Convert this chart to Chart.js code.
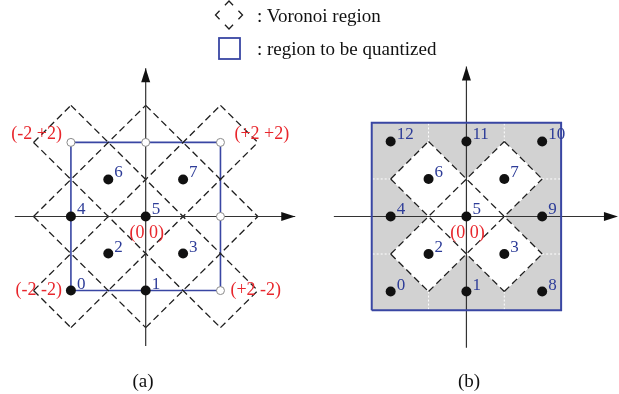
<!DOCTYPE html>
<html>
<head>
<meta charset="utf-8">
<script src="https://cdn.jsdelivr.net/npm/chart.js@4.4.1/dist/chart.umd.min.js"></script>
<style>
  html, body { margin: 0; padding: 0; background: #fff; }
  #wrap { position: relative; width: 619px; height: 394px; overflow: hidden;
          font-family: "Liberation Serif", "Times New Roman", serif; color: #111; }
  #wrap canvas { position: absolute; left: 0; top: 0; }
  .txt { position: absolute; font-size: 19px; line-height: 1; white-space: nowrap; }
  .mid { transform: translate(-50%, -50%); }
  .lft { transform: translate(0, -50%); }
</style>
</head>
<body>
<div id="wrap">
  <canvas id="chartA" width="619" height="394"></canvas>
  <canvas id="chartB" width="619" height="394"></canvas>
  <div class="txt lft" style="left:257px;top:15px">: Voronoi region</div>
  <div class="txt lft" style="left:257px;top:48px">: region to be quantized</div>
  <div class="txt mid" style="left:143px;top:380px">(a)</div>
  <div class="txt mid" style="left:469px;top:380px">(b)</div>
</div>
<script>
// D2 lattice points (x + y even) inside the region, numbered as in (b)
const pointX = [-2, 0, -1, 1, -2, 0, -1, 1, 2, 2, 2, 0, -2];
const pointY = [-2, -2, -1, -1, 0, 0, 1, 1, -2, 0, 2, 2, 2];
const pointLabels = ['0', '1', '2', '3', '4', '5', '6', '7', '8', '9', '10', '11', '12'];
const codewordsA = 8;            // (a): points 0..7 are codewords, the rest are hollow
const innerCells = [2, 3, 5, 6, 7]; // (b): white Voronoi cells

const cornerLabels = ['(-2 -2)', '(+2 -2)', '(+2 +2)', '(-2 +2)'];
const cornerX = [-2, 2, 2, -2];
const cornerY = [-2, -2, 2, 2];
const originLabel = '(0 0)';

const cellRadius = 1;   // L1 radius of a Voronoi diamond
const regionA = 2;      // half side of the region in (a)
const regionB = 2.5;    // half side of the region in (b)
const axisFrom = -3.5;
const axisTo = 4;

const BLUE = '#3946a3';
const BLUE_TXT = '#2d3c98';
const RED = '#e8262c';
const INK = '#1e1e1e';

function diamond(i) {
  const x = pointX[i], y = pointY[i], r = cellRadius;
  return [{x: x - r, y}, {x, y: y + r}, {x: x + r, y}, {x, y: y - r}];
}

// unit edges of the diamonds, deduplicated and joined into long lines
function voronoiLines(indices) {
  const seen = {};
  const edges = [];
  indices.forEach(i => {
    const v = diamond(i);
    for (let k = 0; k < 4; k++) {
      let a = v[k], b = v[(k + 1) % 4];
      if (a.x > b.x) [a, b] = [b, a];
      const key = [a.x, a.y, b.x, b.y].join(',');
      if (!seen[key]) { seen[key] = true; edges.push({a, b}); }
    }
  });
  const groups = {};
  edges.forEach(e => {
    const s = (e.b.y - e.a.y) / (e.b.x - e.a.x);
    const key = s + '|' + (e.a.y - s * e.a.x);
    (groups[key] = groups[key] || []).push(e);
  });
  const out = [];
  Object.values(groups).forEach(list => {
    list.sort((p, q) => p.a.x - q.a.x);
    let cur = {a: list[0].a, b: list[0].b};
    for (let k = 1; k < list.length; k++) {
      if (list[k].a.x === cur.b.x) cur.b = list[k].b;
      else { out.push(cur); cur = {a: list[k].a, b: list[k].b}; }
    }
    out.push(cur);
  });
  return out;
}

function square(h) {
  return [{x: -h, y: -h}, {x: h, y: -h}, {x: h, y: h}, {x: -h, y: h}, {x: -h, y: -h}];
}

function lineSet(data, color, width, dash, order, extra) {
  return Object.assign({
    data, showLine: true, pointRadius: 0, pointHoverRadius: 0,
    borderColor: color, borderWidth: width, borderDash: dash || [],
    fill: false, order
  }, extra || {});
}

function dashedSets(indices, order) {
  return voronoiLines(indices).map(s => lineSet([s.a, s.b], INK, 1.3, [7, 4], order));
}

function axisSets(order) {
  return [
    lineSet([{x: axisFrom, y: 0}, {x: axisTo, y: 0}], '#333', 1.2, [], order),
    lineSet([{x: 0, y: axisFrom}, {x: 0, y: axisTo}], '#333', 1.2, [], order)
  ];
}

function pointsOf(indices) {
  return indices.map(i => ({x: pointX[i], y: pointY[i]}));
}

function range(a, b) { const r = []; for (let i = a; i < b; i++) r.push(i); return r; }

function arrowHeads(chart) {
  const {ctx, scales} = chart;
  const x0 = scales.x.getPixelForValue(0), y0 = scales.y.getPixelForValue(0);
  const tx = scales.x.getPixelForValue(axisTo), ty = scales.y.getPixelForValue(axisTo);
  ctx.save();
  ctx.fillStyle = '#111';
  ctx.beginPath();
  ctx.moveTo(tx, y0); ctx.lineTo(tx - 14, y0 - 4.5); ctx.lineTo(tx - 14, y0 + 4.5); ctx.closePath();
  ctx.fill();
  ctx.beginPath();
  ctx.moveTo(x0, ty); ctx.lineTo(x0 - 4.5, ty + 14); ctx.lineTo(x0 + 4.5, ty + 14); ctx.closePath();
  ctx.fill();
  ctx.restore();
}

function numberLabels(chart, indices) {
  const {ctx, scales} = chart;
  ctx.save();
  ctx.font = '17px "Liberation Serif", serif';
  ctx.fillStyle = BLUE_TXT;
  ctx.textAlign = 'left';
  ctx.textBaseline = 'alphabetic';
  indices.forEach(i => {
    ctx.fillText(pointLabels[i], scales.x.getPixelForValue(pointX[i]) + 6,
                 scales.y.getPixelForValue(pointY[i]) - 2);
  });
  ctx.font = '18px "Liberation Serif", serif';
  ctx.fillStyle = RED;
  ctx.textAlign = 'center';
  ctx.textBaseline = 'middle';
  ctx.fillText(originLabel, scales.x.getPixelForValue(0) + 1, scales.y.getPixelForValue(0) + 17);
  ctx.restore();
}

const annotateA = {
  id: 'annotateA',
  afterDatasetsDraw(chart) {
    const {ctx, scales} = chart;
    arrowHeads(chart);
    numberLabels(chart, range(0, codewordsA));
    ctx.save();
    ctx.font = '18px "Liberation Serif", serif';
    ctx.fillStyle = RED;
    ctx.textBaseline = 'middle';
    cornerLabels.forEach((t, k) => {
      const px = scales.x.getPixelForValue(cornerX[k]);
      const py = scales.y.getPixelForValue(cornerY[k]);
      const top = cornerY[k] > 0;
      if (cornerX[k] < 0) { ctx.textAlign = 'right'; ctx.fillText(t, px - 9, py - (top ? 8 : 0)); }
      else { ctx.textAlign = 'left'; ctx.fillText(t, px + (top ? 14 : 10), py - (top ? 8 : 0)); }
    });
    ctx.restore();

    // legend icons
    ctx.save();
    ctx.strokeStyle = INK;
    ctx.lineWidth = 1.3;
    const cx = 229, cy = 15, hw = 13.5, hh = 14, arm = 0.3;
    const tips = [[cx - hw, cy], [cx, cy - hh], [cx + hw, cy], [cx, cy + hh]];
    tips.forEach((p, k) => {
      const prev = tips[(k + 3) % 4], next = tips[(k + 1) % 4];
      ctx.beginPath();
      ctx.moveTo(p[0] + (prev[0] - p[0]) * arm, p[1] + (prev[1] - p[1]) * arm);
      ctx.lineTo(p[0], p[1]);
      ctx.lineTo(p[0] + (next[0] - p[0]) * arm, p[1] + (next[1] - p[1]) * arm);
      ctx.stroke();
    });
    ctx.strokeStyle = BLUE;
    ctx.lineWidth = 1.8;
    ctx.strokeRect(219, 38, 21, 21);
    ctx.restore();
  }
};

const annotateB = {
  id: 'annotateB',
  afterDatasetsDraw(chart) {
    arrowHeads(chart);
    numberLabels(chart, range(0, pointX.length));
  }
};

// white dotted borders between the grey boundary cells (b)
function dividerSets(order) {
  const sets = [];
  const edgePts = range(0, pointX.length).filter(i => Math.abs(pointX[i]) === 2 || Math.abs(pointY[i]) === 2);
  edgePts.forEach(i => edgePts.forEach(j => {
    if (j <= i) return;
    const sameRow = pointY[i] === pointY[j] && Math.abs(pointY[i]) === 2 && Math.abs(pointX[i] - pointX[j]) === 2;
    const sameCol = pointX[i] === pointX[j] && Math.abs(pointX[i]) === 2 && Math.abs(pointY[i] - pointY[j]) === 2;
    if (!sameRow && !sameCol) return;
    const m = {x: (pointX[i] + pointX[j]) / 2, y: (pointY[i] + pointY[j]) / 2};
    const e = sameRow ? {x: m.x, y: Math.sign(m.y) * regionB} : {x: Math.sign(m.x) * regionB, y: m.y};
    sets.push(lineSet([m, e], '#ffffff', 1, [2, 2], order));
  }));
  return sets;
}

const baseOptions = (xmin, xmax, ymin, ymax) => ({
  responsive: false,
  animation: false,
  events: [],
  layout: { padding: 0 },
  plugins: { legend: { display: false }, tooltip: { enabled: false } },
  scales: {
    x: { type: 'linear', min: xmin, max: xmax, display: false },
    y: { type: 'linear', min: ymin, max: ymax, display: false }
  }
});

// (a) 38 px per unit, origin at (143, 217)
const ua = 38;
new Chart(document.getElementById('chartA'), {
  type: 'scatter',
  data: {
    datasets: [
      ...dashedSets(range(0, pointX.length), 6),
      lineSet(square(regionA), BLUE, 1.6, [], 7),
      ...axisSets(5),
      { data: pointsOf(range(0, codewordsA)), pointRadius: 5, pointHoverRadius: 5,
        backgroundColor: '#111', borderColor: '#111', borderWidth: 0, order: 1 },
      { data: pointsOf(range(codewordsA, pointX.length)), pointRadius: 4, pointHoverRadius: 4,
        backgroundColor: '#fff', borderColor: '#8a8a8a', borderWidth: 1, order: 1 }
    ]
  },
  options: baseOptions(-143 / ua, (619 - 143) / ua, -(394 - 217) / ua, 217 / ua),
  plugins: [annotateA]
});

// (b) 38.5 px per unit, origin at (469, 217)
const ub = 38.5;
new Chart(document.getElementById('chartB'), {
  type: 'scatter',
  data: {
    datasets: [
      lineSet(square(regionB), '#d2d2d2', 1, [], 20, { fill: 'shape', backgroundColor: '#d2d2d2' }),
      ...innerCells.map(i => {
        const d = diamond(i);
        return lineSet([...d, d[0]], '#ffffff', 1, [], 15, { fill: 'shape', backgroundColor: '#ffffff' });
      }),
      ...dividerSets(12),
      ...dashedSets(innerCells, 10),
      ...axisSets(8),
      lineSet(square(regionB), BLUE, 2, [], 6),
      { data: pointsOf(range(0, pointX.length)), pointRadius: 5, pointHoverRadius: 5,
        backgroundColor: '#111', borderColor: '#111', borderWidth: 0, order: 1 }
    ]
  },
  options: baseOptions(-469 / ub, (619 - 469) / ub, -(394 - 217) / ub, 217 / ub),
  plugins: [annotateB]
});
</script>
</body>
</html>
